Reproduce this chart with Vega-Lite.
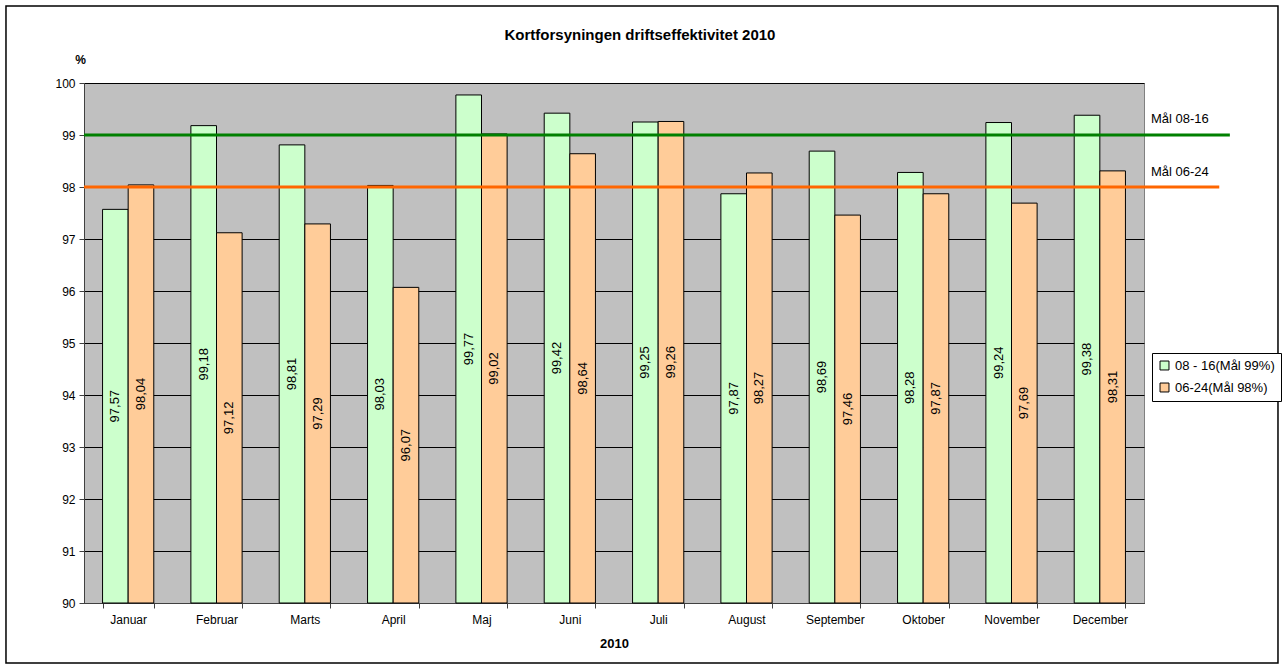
{
  "$schema": "https://vega.github.io/schema/vega-lite/v6.json",
  "autosize": "none",
  "width": 1060,
  "height": 520,
  "padding": {"left": 84, "top": 83, "right": 141, "bottom": 68},
  "background": "white",
  "config": {
    "font": "Liberation Sans",
    "view": {"fill": "#C0C0C0", "stroke": "#808080", "strokeWidth": 1}
  },
  "datasets": {
    "bars": [
      {"month": "Januar", "series": "08 - 16(Mål 99%)", "value": 97.57, "label": "97,57"},
      {"month": "Januar", "series": "06-24(Mål 98%)", "value": 98.04, "label": "98,04"},
      {"month": "Februar", "series": "08 - 16(Mål 99%)", "value": 99.18, "label": "99,18"},
      {"month": "Februar", "series": "06-24(Mål 98%)", "value": 97.12, "label": "97,12"},
      {"month": "Marts", "series": "08 - 16(Mål 99%)", "value": 98.81, "label": "98,81"},
      {"month": "Marts", "series": "06-24(Mål 98%)", "value": 97.29, "label": "97,29"},
      {"month": "April", "series": "08 - 16(Mål 99%)", "value": 98.03, "label": "98,03"},
      {"month": "April", "series": "06-24(Mål 98%)", "value": 96.07, "label": "96,07"},
      {"month": "Maj", "series": "08 - 16(Mål 99%)", "value": 99.77, "label": "99,77"},
      {"month": "Maj", "series": "06-24(Mål 98%)", "value": 99.02, "label": "99,02"},
      {"month": "Juni", "series": "08 - 16(Mål 99%)", "value": 99.42, "label": "99,42"},
      {"month": "Juni", "series": "06-24(Mål 98%)", "value": 98.64, "label": "98,64"},
      {"month": "Juli", "series": "08 - 16(Mål 99%)", "value": 99.25, "label": "99,25"},
      {"month": "Juli", "series": "06-24(Mål 98%)", "value": 99.26, "label": "99,26"},
      {"month": "August", "series": "08 - 16(Mål 99%)", "value": 97.87, "label": "97,87"},
      {"month": "August", "series": "06-24(Mål 98%)", "value": 98.27, "label": "98,27"},
      {"month": "September", "series": "08 - 16(Mål 99%)", "value": 98.69, "label": "98,69"},
      {"month": "September", "series": "06-24(Mål 98%)", "value": 97.46, "label": "97,46"},
      {"month": "Oktober", "series": "08 - 16(Mål 99%)", "value": 98.28, "label": "98,28"},
      {"month": "Oktober", "series": "06-24(Mål 98%)", "value": 97.87, "label": "97,87"},
      {"month": "November", "series": "08 - 16(Mål 99%)", "value": 99.24, "label": "99,24"},
      {"month": "November", "series": "06-24(Mål 98%)", "value": 97.69, "label": "97,69"},
      {"month": "December", "series": "08 - 16(Mål 99%)", "value": 99.38, "label": "99,38"},
      {"month": "December", "series": "06-24(Mål 98%)", "value": 98.31, "label": "98,31"}
    ],
    "goals": [
      {"goal": "Mål 08-16", "value": 99},
      {"goal": "Mål 06-24", "value": 98}
    ],
    "frame": [
      {"title": "Kortforsyningen driftseffektivitet 2010"}
    ]
  },
  "resolve": {"scale": {"x": "independent", "y": "independent"}},
  "layer": [
    {
      "data": {"name": "bars"},
      "mark": {"type": "bar", "stroke": "black", "strokeWidth": 1},
      "encoding": {
        "x": {
          "field": "month", "type": "nominal",
          "sort": ["Januar","Februar","Marts","April","Maj","Juni","Juli","August","September","Oktober","November","December"],
          "scale": {"paddingInner": 0.42, "paddingOuter": 0.21},
          "axis": {"title": "2010", "titleFontSize": 13, "titleFontWeight": "bold", "titleColor": "black", "titlePadding": 12,
                   "labelAngle": 0, "labelFontSize": 12, "labelColor": "black", "labelPadding": 6,
                   "tickBand": "extent", "tickSize": 5, "tickColor": "#404040", "domainColor": "#404040", "grid": false}
        },
        "xOffset": {"field": "series", "type": "nominal", "sort": ["08 - 16(Mål 99%)", "06-24(Mål 98%)"], "scale": {"paddingInner": 0}},
        "y": {
          "field": "value", "type": "quantitative",
          "scale": {"domain": [90, 100], "zero": false, "nice": false},
          "axis": {"title": "%", "titleAngle": 0, "titleX": -4, "titleY": -24, "titleAlign": "center", "titleBaseline": "middle",
                   "titleFontSize": 12, "titleFontWeight": "bold", "titleColor": "black",
                   "values": [90,91,92,93,94,95,96,97,98,99,100], "labelFontSize": 12, "labelColor": "black", "labelPadding": 4,
                   "tickSize": 5, "tickColor": "#404040", "domainColor": "#404040",
                   "grid": true, "gridColor": "black", "gridOpacity": 1, "gridWidth": 1}
        },
        "y2": {"datum": 90},
        "color": {
          "field": "series", "type": "nominal", "sort": ["08 - 16(Mål 99%)", "06-24(Mål 98%)"],
          "scale": {"range": ["#CCFFCC", "#FFCC99"]},
          "legend": {"title": null, "orient": "none", "legendX": 1068, "legendY": 270, "strokeColor": "black", "padding": 6,
                     "symbolType": "square", "symbolSize": 80, "symbolStrokeColor": "black", "symbolStrokeWidth": 1,
                     "labelFontSize": 13, "labelColor": "black", "rowPadding": 8, "fillColor": "white"}
        }
      }
    },
    {
      "data": {"name": "bars"},
      "mark": {"type": "text", "angle": 270, "fontSize": 13, "color": "black", "align": "center", "baseline": "middle"},
      "encoding": {
        "x": {"field": "month", "type": "nominal",
              "sort": ["Januar","Februar","Marts","April","Maj","Juni","Juli","August","September","Oktober","November","December"],
              "scale": {"paddingInner": 0.42, "paddingOuter": 0.21}, "axis": null},
        "xOffset": {"field": "series", "type": "nominal", "sort": ["08 - 16(Mål 99%)", "06-24(Mål 98%)"], "scale": {"paddingInner": 0}},
        "y": {"field": "value", "type": "quantitative", "scale": {"domain": [90, 110], "zero": false, "nice": false}, "axis": null},
        "text": {"field": "label"}
      }
    },
    {
      "data": {"name": "goals"},
      "transform": [{"filter": "datum.goal == 'Mål 08-16'"}],
      "layer": [
        {
          "mark": {"type": "rule", "color": "#008000", "strokeWidth": 3},
          "encoding": {
            "x": {"datum": 0, "type": "quantitative", "scale": {"domain": [0, 1], "nice": false, "zero": false}, "axis": null},
            "x2": {"datum": 1.081},
            "y": {"field": "value", "type": "quantitative", "scale": {"domain": [90, 100], "zero": false, "nice": false}, "axis": null}
          }
        },
        {
          "mark": {"type": "text", "align": "left", "baseline": "middle", "dy": -16, "fontSize": 13, "color": "black"},
          "encoding": {
            "x": {"datum": 1.0066, "type": "quantitative", "scale": {"domain": [0, 1], "nice": false, "zero": false}, "axis": null},
            "y": {"field": "value", "type": "quantitative", "scale": {"domain": [90, 100], "zero": false, "nice": false}, "axis": null},
            "text": {"field": "goal"}
          }
        }
      ]
    },
    {
      "data": {"name": "goals"},
      "transform": [{"filter": "datum.goal == 'Mål 06-24'"}],
      "layer": [
        {
          "mark": {"type": "rule", "color": "#FF6600", "strokeWidth": 3},
          "encoding": {
            "x": {"datum": 0, "type": "quantitative", "scale": {"domain": [0, 1], "nice": false, "zero": false}, "axis": null},
            "x2": {"datum": 1.071},
            "y": {"field": "value", "type": "quantitative", "scale": {"domain": [90, 100], "zero": false, "nice": false}, "axis": null}
          }
        },
        {
          "mark": {"type": "text", "align": "left", "baseline": "middle", "dy": -15, "fontSize": 13, "color": "black"},
          "encoding": {
            "x": {"datum": 1.0066, "type": "quantitative", "scale": {"domain": [0, 1], "nice": false, "zero": false}, "axis": null},
            "y": {"field": "value", "type": "quantitative", "scale": {"domain": [90, 100], "zero": false, "nice": false}, "axis": null},
            "text": {"field": "goal"}
          }
        }
      ]
    },
    {
      "data": {"name": "frame"},
      "layer": [
        {
          "mark": {"type": "rect", "fill": "white", "fillOpacity": 0, "stroke": "black", "strokeWidth": 1.5, "strokeOpacity": 1},
          "encoding": {
            "x": {"datum": -0.0736, "type": "quantitative", "scale": {"domain": [0, 1], "nice": false, "zero": false}, "axis": null},
            "x2": {"datum": 1.1264},
            "y": {"datum": 1.148, "type": "quantitative", "scale": {"domain": [0, 1], "nice": false, "zero": false}, "axis": null},
            "y2": {"datum": -0.1154}
          }
        },
        {
          "mark": {"type": "text", "fontSize": 15, "fontWeight": "bold", "color": "black", "align": "center", "baseline": "middle"},
          "encoding": {
            "x": {"datum": 0.5245, "type": "quantitative", "scale": {"domain": [0, 1], "nice": false, "zero": false}, "axis": null},
            "y": {"datum": 1.0923, "type": "quantitative", "scale": {"domain": [0, 1], "nice": false, "zero": false}, "axis": null},
            "text": {"field": "title"}
          }
        }
      ]
    }
  ]
}
